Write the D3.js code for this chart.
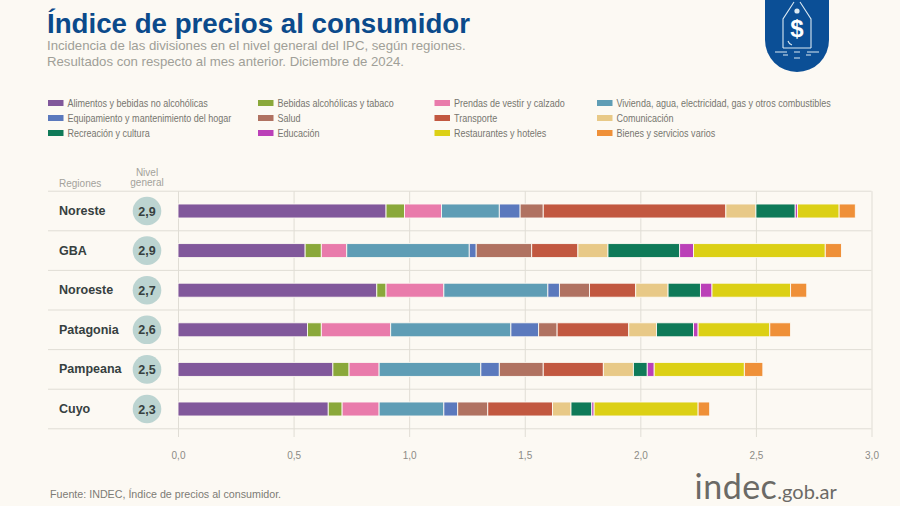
<!DOCTYPE html>
<html lang="es">
<head>
<meta charset="utf-8">
<title>Índice de precios al consumidor</title>
<script src="https://cdn.jsdelivr.net/npm/d3@7"></script>
<style>
  html, body { margin: 0; padding: 0; background: #fcf9f3; }
  svg { display: block; font-family: "Liberation Sans", Arial, sans-serif; }
</style>
</head>
<body>
<svg id="chart" width="900" height="506"></svg>
<script>
// Divisions, in stacking order
const divisions = [
  "Alimentos y bebidas no alcohólicas", "Bebidas alcohólicas y tabaco", "Prendas de vestir y calzado",
  "Vivienda, agua, electricidad, gas y otros combustibles", "Equipamiento y mantenimiento del hogar", "Salud",
  "Transporte", "Comunicación", "Recreación y cultura", "Educación", "Restaurantes y hoteles", "Bienes y servicios varios"
];
const divisionColors = ["#81589b", "#8aa83a", "#e97bab", "#5f9db5", "#5b79bd", "#b07261",
                        "#c25840", "#e8c987", "#0f7a58", "#bb40b8", "#dcd015", "#ef9038"];

const regions = ["Noreste", "GBA", "Noroeste", "Patagonia", "Pampeana", "Cuyo"];
const generalLevel = ["2,9", "2,9", "2,7", "2,6", "2,5", "2,3"];

// Incidence of each division per region (same order as divisions)
const noreste  = [0.90, 0.08, 0.16, 0.25, 0.09, 0.10, 0.79, 0.13, 0.17, 0.01, 0.18, 0.07];
const gba      = [0.55, 0.07, 0.11, 0.53, 0.03, 0.24, 0.20, 0.13, 0.31, 0.06, 0.57, 0.07];
const noroeste = [0.86, 0.04, 0.25, 0.45, 0.05, 0.13, 0.20, 0.14, 0.14, 0.05, 0.34, 0.07];
const patagonia = [0.56, 0.06, 0.30, 0.52, 0.12, 0.08, 0.31, 0.12, 0.16, 0.02, 0.31, 0.09];
const pampeana = [0.67, 0.07, 0.13, 0.44, 0.08, 0.19, 0.26, 0.13, 0.06, 0.03, 0.39, 0.08];
const cuyo     = [0.65, 0.06, 0.16, 0.28, 0.06, 0.13, 0.28, 0.08, 0.09, 0.01, 0.45, 0.05];
const regionValues = [noreste, gba, noroeste, patagonia, pampeana, cuyo];

const xTicks = [0, 0.5, 1, 1.5, 2, 2.5, 3];

const svg = d3.select("#chart");
const bg = "#fcf9f3";
const grid = "#e0ddd5";

const x = d3.scaleLinear().domain([0, 3]).range([178, 871.5]);
const y = d3.scaleBand().domain(regions).range([191.2, 428.8]);
const color = d3.scaleOrdinal().domain(divisions).range(divisionColors);
const barH = 14;

// Build table for d3.stack
const table = regions.map((r, i) => {
  const row = { region: r };
  divisions.forEach((d, j) => { row[d] = regionValues[i][j]; });
  return row;
});
const stacked = d3.stack().keys(divisions)(table);

// -------------------- Header --------------------
svg.append("text").attr("x", 47).attr("y", 33)
  .attr("font-size", 28.5).attr("font-weight", 700).attr("fill", "#0b4a8b")
  .attr("textLength", 423).attr("lengthAdjust", "spacingAndGlyphs")
  .text("Índice de precios al consumidor");

const subtitle = ["Incidencia de las divisiones en el nivel general del IPC, según regiones.",
                  "Resultados con respecto al mes anterior. Diciembre de 2024."];
svg.selectAll("text.sub").data(subtitle).enter().append("text")
  .attr("class", "sub")
  .attr("x", 47).attr("y", (d, i) => 50 + i * 15.5)
  .attr("font-size", 13.2).attr("fill", "#a09f98")
  .text(d => d);

// Price tag badge
const badge = svg.append("g").attr("transform", "translate(797,0)");
badge.append("path")
  .attr("d", "M-32,0 V40 A32,32 0 0 0 32,40 V0 Z")
  .attr("fill", "#0b4f96");
const tagLines = badge.append("g").attr("fill", "none").attr("stroke", "#dbe9f2").attr("stroke-width", 1.1);
tagLines.append("path").attr("d", "M-14,48 V19 L-3,2 M14,48 V19 L3,2 M-14,48 H14");
tagLines.append("path").attr("d", "M-22,52 H-10 M-3,52 H3 M10,52 H22 M-14,55 H-9 M-3,58 H3 M9,55 H14");
tagLines.append("path").attr("d", "M-9,41 A6,6 0 0 0 -5,45");
badge.append("circle").attr("cy", 11).attr("r", 2.6).attr("fill", "#dbe9f2");
badge.append("text").attr("y", 37).attr("text-anchor", "middle")
  .attr("font-size", 24).attr("font-weight", 700).attr("fill", "#fff").text("$");

// -------------------- Legend --------------------
const legendCols = [48, 258, 434.5, 597];
const legendRows = [103, 118, 133];
const legend = svg.selectAll("g.legend").data(divisions).enter().append("g")
  .attr("class", "legend")
  .attr("transform", (d, i) => `translate(${legendCols[i % 4]},${legendRows[Math.floor(i / 4)]})`);
legend.append("rect")
  .attr("y", -3).attr("width", 15.5).attr("height", 6)
  .attr("fill", d => color(d));
// no condensed face installed, so squeeze the regular one
legend.append("text")
  .attr("transform", "translate(19.5,3.8) scale(0.784,1)")
  .attr("font-size", 11.5).attr("fill", "#77766f")
  .text(d => d);

// -------------------- Grid --------------------
svg.selectAll("line.h").data(y.domain().map(d => y(d)).concat(y.range()[1])).enter().append("line")
  .attr("class", "h")
  .attr("x1", 48).attr("x2", x(3))
  .attr("y1", d => d).attr("y2", d => d)
  .attr("stroke", grid);

const axis = d3.axisBottom(x)
  .tickValues(xTicks)
  .tickFormat(d => d3.format(".1f")(d).replace(".", ","))
  .tickSize(0).tickPadding(0);
const axisG = svg.append("g").attr("transform", "translate(0,437)").call(axis);
axisG.select(".domain").remove();
axisG.selectAll("text")
  .attr("y", 21.5).attr("dy", 0)
  .attr("font-family", "'Liberation Sans', sans-serif")
  .attr("font-size", 10).attr("fill", "#8c8b85");
axisG.selectAll(".tick").append("line")
  .attr("y1", 191.2 - 437).attr("y2", 0)
  .attr("stroke", grid);

// -------------------- Stacked bars --------------------
svg.selectAll("g.series").data(stacked).enter().append("g")
  .attr("class", "series")
  .attr("fill", d => color(d.key))
  .selectAll("rect").data(d => d).enter().append("rect")
  .attr("x", d => x(d[0]))
  .attr("y", d => y(d.data.region) + y.bandwidth() / 2 - barH / 2)
  .attr("width", d => x(d[1]) - x(d[0]))
  .attr("height", barH)
  .attr("stroke", bg).attr("stroke-width", 0.9);

// -------------------- Row labels --------------------
svg.append("text").attr("x", 59).attr("y", 186.5)
  .attr("font-size", 10).attr("fill", "#a3a29b").text("Regiones");
svg.selectAll("text.head").data(["Nivel", "general"]).enter().append("text")
  .attr("class", "head")
  .attr("x", 147).attr("y", (d, i) => 175.5 + i * 10.5)
  .attr("text-anchor", "middle")
  .attr("font-size", 10).attr("fill", "#a3a29b").text(d => d);

const rows = svg.selectAll("g.row").data(regions).enter().append("g")
  .attr("class", "row")
  .attr("transform", d => `translate(0,${y(d) + y.bandwidth() / 2})`);
rows.append("text")
  .attr("x", 59).attr("y", 4)
  .attr("font-size", 12.5).attr("font-weight", 700).attr("fill", "#36403f")
  .text(d => d);
rows.append("circle")
  .attr("cx", 147).attr("r", 14.3).attr("fill", "#bcd4d1");
rows.append("text")
  .attr("x", 147).attr("y", 4.5)
  .attr("text-anchor", "middle")
  .attr("font-size", 12.5).attr("font-weight", 700).attr("fill", "#36403f")
  .text((d, i) => generalLevel[i]);

// -------------------- Footer --------------------
svg.append("text").attr("x", 50).attr("y", 497.5)
  .attr("font-size", 10.7).attr("fill", "#7c7b75")
  .text("Fuente: INDEC, Índice de precios al consumidor.");

const logo = svg.append("text").attr("x", 694.5).attr("y", 499).attr("fill", "#6b6a66")
  .attr("font-family", "Lato, sans-serif");
logo.append("tspan").attr("font-size", 34).attr("letter-spacing", 0.5).text("indec");
logo.append("tspan").attr("font-size", 20).text(".gob.ar");
</script>
</body>
</html>
